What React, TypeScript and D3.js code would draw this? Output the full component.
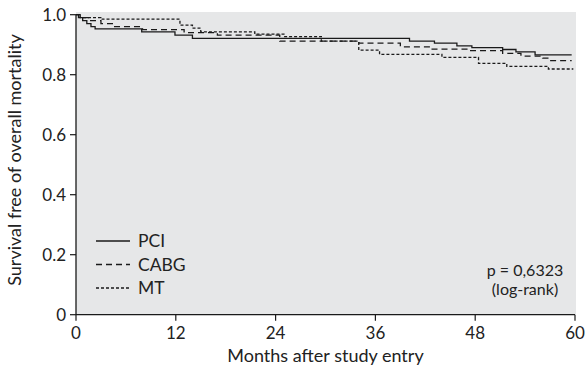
import React from 'react'
import * as d3 from 'd3'

// Kaplan-Meier steps (months, survival)
const pciTimes = [0, 0.3, 0.8, 1.3, 1.8, 2.3, 7.9, 11.9, 14.0, 40.1, 43.1, 45.8, 47.6, 51.3, 52.9, 55.2, 59.6]
const pciSurv = [1.0, 0.99, 0.98, 0.97, 0.96, 0.953, 0.943, 0.932, 0.921, 0.912, 0.905, 0.896, 0.89, 0.884, 0.876, 0.866, 0.866]

const cabgTimes = [0, 0.5, 1.5, 3, 4.5, 8, 13, 17, 24.5, 34, 39, 42.7, 47, 51.3, 53.5, 56.1, 57, 59.6]
const cabgSurv = [1.0, 0.99, 0.98, 0.97, 0.96, 0.95, 0.94, 0.932, 0.912, 0.905, 0.893, 0.885, 0.88, 0.871, 0.862, 0.855, 0.847, 0.847]

const mtTimes = [0, 0.5, 3, 12.5, 14, 15, 21.5, 25, 29.5, 34, 36.5, 44, 48.4, 51.8, 56.8, 59.8]
const mtSurv = [1.0, 0.99, 0.985, 0.965, 0.955, 0.943, 0.935, 0.927, 0.912, 0.882, 0.868, 0.858, 0.838, 0.828, 0.819, 0.819]

const xTicks = [0, 12, 24, 36, 48, 60]
const yTicks = [0, 0.2, 0.4, 0.6, 0.8, 1.0]
const yTickLabels = ['0', '0.2', '0.4', '0.6', '0.8', '1.0']

const groups = ['PCI', 'CABG', 'MT']
const dashes = ['none', '6,4', '3,2']

const W = 586
const H = 376
const FONT = 'Lato, "Open Sans", sans-serif'

export default function App() {
  const x = d3.scaleLinear().domain([0, 60]).range([76, 575])
  const y = d3.scaleLinear().domain([0, 1]).range([314.7, 14.7])

  const line = d3.line<[number, number]>()
    .x(d => x(d[0]))
    .y(d => y(d[1]))
    .curve(d3.curveStepAfter)

  const series = [
    pciTimes.map((t, i) => [t, pciSurv[i]] as [number, number]),
    cabgTimes.map((t, i) => [t, cabgSurv[i]] as [number, number]),
    mtTimes.map((t, i) => [t, mtSurv[i]] as [number, number]),
  ]

  const legendY = [241, 264.5, 288]

  return (
    <svg width={W} height={H} style={{ position: 'absolute', left: 0, top: 0, fontFamily: FONT }}>
      <rect x={0} y={0} width={W} height={H} fill="#fff" />
      {/* plot background */}
      <rect x={x(0)} y={12} width={576 - x(0)} height={y(0) - 12} fill="#e6e7e8" />

      {series.map((s, i) => (
        <path key={groups[i]} d={line(s) || ''} fill="none" stroke="#1a1a1a"
          strokeWidth={1.3} strokeDasharray={dashes[i]} />
      ))}

      {/* axes */}
      <line x1={x(0)} x2={x(0)} y1={y(1)} y2={y(0)} stroke="#1a1a1a" strokeWidth={1.3} />
      <line x1={x(0)} x2={x(60)} y1={y(0)} y2={y(0)} stroke="#1a1a1a" strokeWidth={1.3} />
      {yTicks.map((t, i) => (
        <g key={'y' + t}>
          <line x1={x(0) - 6} x2={x(0)} y1={y(t)} y2={y(t)} stroke="#1a1a1a" strokeWidth={1.2} />
          <text x={x(0) - 10} y={y(t)} dy="0.35em" textAnchor="end" fontSize={17} fill="#222">{yTickLabels[i]}</text>
        </g>
      ))}
      {xTicks.map(t => (
        <g key={'x' + t}>
          <line x1={x(t)} x2={x(t)} y1={y(0)} y2={y(0) + 6} stroke="#1a1a1a" strokeWidth={1.2} />
          <text x={x(t)} y={y(0) + 24} textAnchor="middle" fontSize={17} fill="#222">{t}</text>
        </g>
      ))}

      <text x={(x(0) + x(60)) / 2} y={362} textAnchor="middle" fontSize={18} fill="#222">Months after study entry</text>
      <text transform={`translate(21,160) rotate(-90)`} textAnchor="middle" fontSize={18} fill="#222">
        Survival free of overall mortality
      </text>

      {/* legend */}
      {groups.map((g, i) => (
        <g key={'lg' + g}>
          <line x1={96} x2={130} y1={legendY[i]} y2={legendY[i]} stroke="#1a1a1a" strokeWidth={1.3} strokeDasharray={dashes[i]} />
          <text x={138} y={legendY[i]} dy="0.35em" fontSize={17.5} fill="#222">{g}</text>
        </g>
      ))}

      <text x={525} y={270} dy="0.35em" textAnchor="middle" fontSize={16} fill="#222">p = 0,6323</text>
      <text x={525} y={289} dy="0.35em" textAnchor="middle" fontSize={16} fill="#222">(log-rank)</text>
    </svg>
  )
}
